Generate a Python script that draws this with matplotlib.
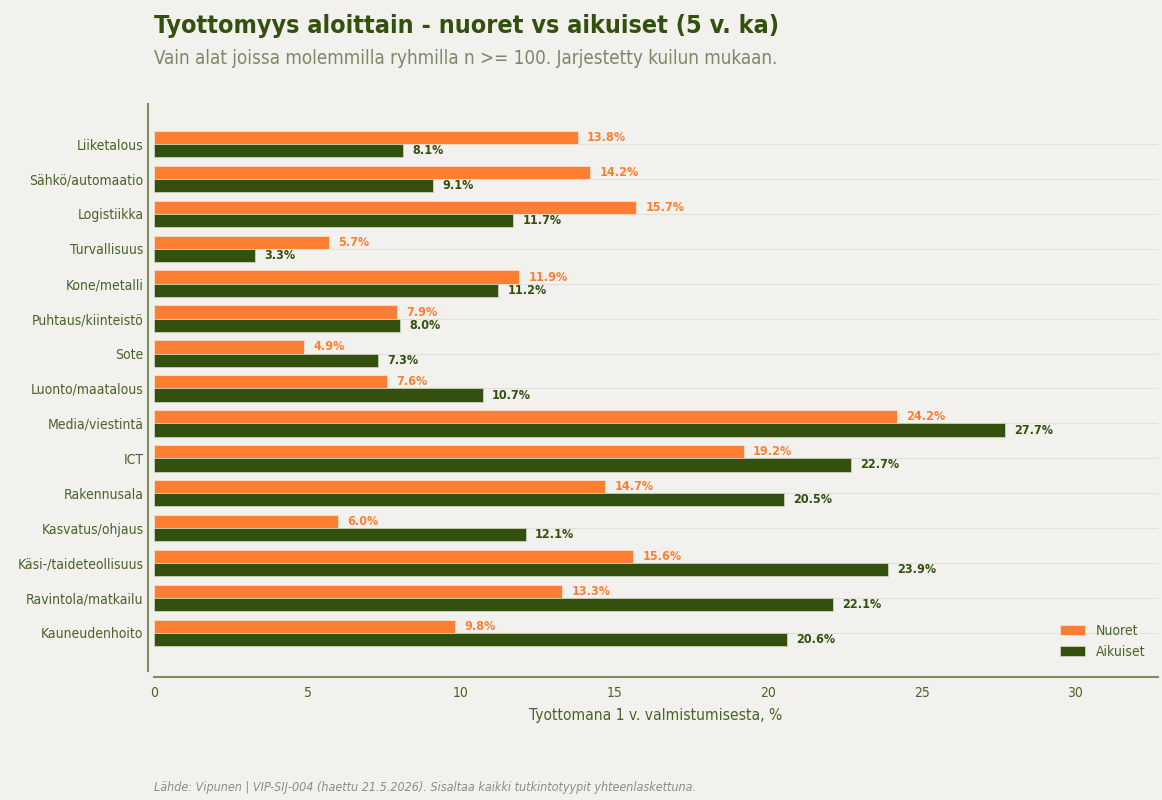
import numpy as np
import matplotlib
matplotlib.use("Agg")
import matplotlib.pyplot as plt

plt.rcParams["font.family"] = "DejaVu Sans"
plt.rcParams["font.stretch"] = "condensed"

# Data (5-year averages, % unemployed 1 year after graduation)
fields = ["Liiketalous", "Sähkö/automaatio", "Logistiikka", "Turvallisuus", "Kone/metalli",
          "Puhtaus/kiinteistö", "Sote", "Luonto/maatalous", "Media/viestintä", "ICT",
          "Rakennusala", "Kasvatus/ohjaus", "Käsi-/taideteollisuus", "Ravintola/matkailu",
          "Kauneudenhoito"]
nuoret = [13.8, 14.2, 15.7, 5.7, 11.9, 7.9, 4.9, 7.6, 24.2, 19.2, 14.7, 6.0, 15.6, 13.3, 9.8]
aikuiset = [8.1, 9.1, 11.7, 3.3, 11.2, 8.0, 7.3, 10.7, 27.7, 22.7, 20.5, 12.1, 23.9, 22.1, 20.6]

BG = "#F2F1ED"
ORANGE = "#FF7F32"
GREEN = "#33500F"
OLIVE = "#4A6328"
SPINE = "#7D8F5F"

fig = plt.figure(figsize=(11.62, 8.0), dpi=100, facecolor=BG)
ax = fig.add_axes([0.1325, 0.161, 0.864, 0.709])
ax.set_facecolor(BG)

y = np.arange(len(fields))
h = 0.38
ax.barh(y - h / 2, nuoret, height=h, color=ORANGE, edgecolor="#f7e0cf", linewidth=0.6,
        label="Nuoret", zorder=3)
ax.barh(y + h / 2, aikuiset, height=h, color=GREEN, edgecolor="#c9d2bd", linewidth=0.6,
        label="Aikuiset", zorder=3)

for yi, v in zip(y, nuoret):
    ax.text(v + 0.3, yi - h / 2, f"{v:.1f}%", va="center", ha="left", fontsize=9,
            fontweight="bold", color=ORANGE)
for yi, v in zip(y, aikuiset):
    ax.text(v + 0.3, yi + h / 2, f"{v:.1f}%", va="center", ha="left", fontsize=9,
            fontweight="bold", color=GREEN)

ax.set_yticks(y)
ax.set_yticklabels(fields)
ax.set_ylim(len(fields) - 1 + 1.1, -1.15)
ax.set_xlim(0, max(aikuiset) * 1.18)
ax.set_xticks([0, 5, 10, 15, 20, 25, 30])
ax.tick_params(axis="y", length=0, pad=3, labelsize=10, labelcolor=OLIVE)
ax.tick_params(axis="x", length=0, pad=6, labelsize=10, labelcolor=OLIVE)
ax.grid(axis="y", color="#e2e1dc", linewidth=0.8, zorder=0)
ax.set_axisbelow(True)

for s in ["top", "right"]:
    ax.spines[s].set_visible(False)
for s in ["left", "bottom"]:
    ax.spines[s].set_color(SPINE)
    ax.spines[s].set_linewidth(1.5)
    ax.spines[s].set_position(("outward", 4.5))

ax.set_xlabel("Tyottomana 1 v. valmistumisesta, %", fontsize=11.2, color=OLIVE, labelpad=6)

leg = ax.legend(loc="lower right", frameon=False, fontsize=10, handlelength=1.8)
for t in leg.get_texts():
    t.set_color(OLIVE)

fig.text(0.1325, 0.967, "Tyottomyys aloittain - nuoret vs aikuiset (5 v. ka)", fontsize=18,
         fontweight="bold", color=GREEN, ha="left", va="center")
fig.text(0.1325, 0.927, "Vain alat joissa molemmilla ryhmilla n >= 100. Jarjestetty kuilun mukaan.",
         fontsize=13.5, color="#7A8A68", ha="left", va="center")
fig.text(0.1325, 0.016, "Lähde: Vipunen | VIP-SIJ-004 (haettu 21.5.2026). Sisaltaa kaikki tutkintotyypit yhteenlaskettuna.",
         fontsize=9, style="italic", color="#8A9080", ha="left", va="center")

fig.savefig("out.png", dpi=100, facecolor=BG)
